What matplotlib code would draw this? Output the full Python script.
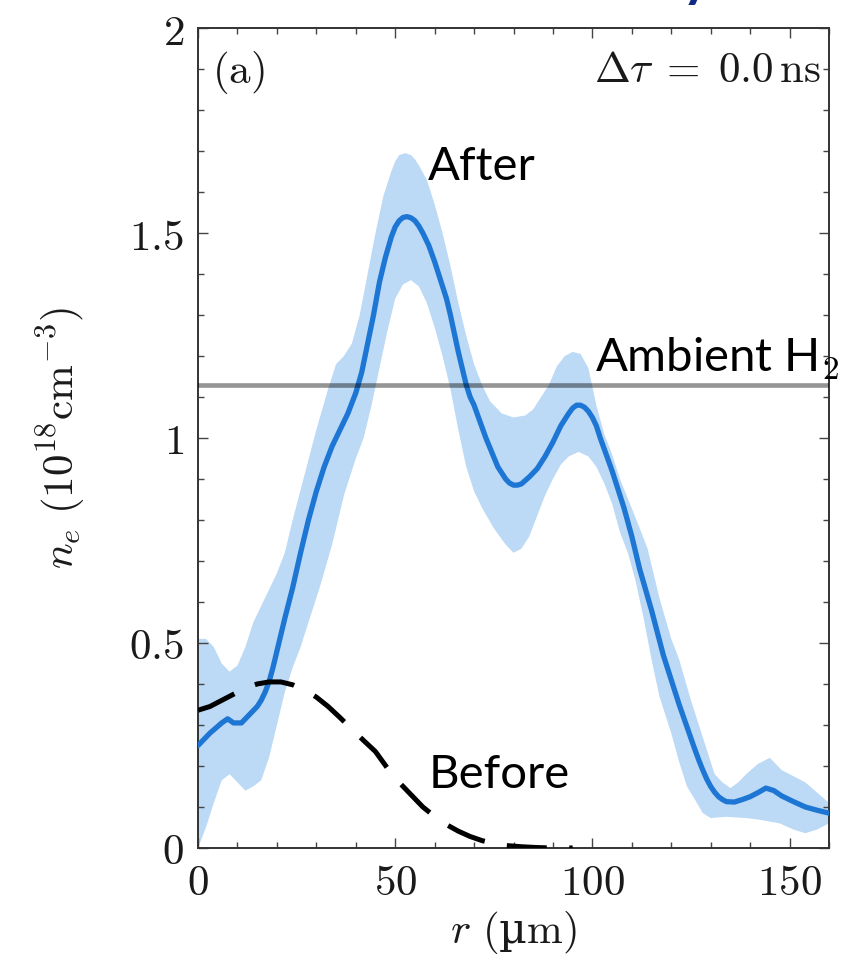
import numpy as np
import matplotlib
matplotlib.use("Agg")
import matplotlib.pyplot as plt
from matplotlib.ticker import MultipleLocator, FuncFormatter

plt.rcParams['mathtext.fontset'] = 'cm'
plt.rcParams['font.family'] = ['DejaVu Serif']

# Electron density after the pulse (mean profile)
r_after = [0, 3, 6, 7.5, 9, 11, 13, 15, 16, 17, 18, 19, 20, 21, 22, 24, 26, 28, 30, 32,
           34, 36, 38, 40, 41.5, 43, 44.5, 46, 47.5, 49, 50, 51, 52, 53, 54, 55, 56, 57,
           58.5, 60, 61, 62, 63, 64, 65, 66, 67, 68, 69, 70, 71.5, 73, 74.5, 76, 78, 79,
           80, 81, 82, 84, 86, 88, 90, 92, 94, 95, 96, 97, 98, 99, 100, 101, 102, 103.5,
           105, 106.5, 108, 110, 112, 115, 118, 120, 122, 124, 126, 127, 128, 129, 130,
           131, 132, 133, 134, 136, 138, 140, 142, 144, 146, 148, 151, 154, 157, 160]
ne_after = [0.25, 0.28, 0.305, 0.315, 0.305, 0.305, 0.325, 0.345, 0.36, 0.38, 0.405, 0.44,
            0.48, 0.52, 0.56, 0.635, 0.72, 0.80, 0.87, 0.93, 0.98, 1.02, 1.06, 1.11, 1.16,
            1.23, 1.30, 1.38, 1.44, 1.49, 1.515, 1.53, 1.538, 1.54, 1.537, 1.53, 1.517,
            1.50, 1.47, 1.43, 1.40, 1.37, 1.34, 1.30, 1.255, 1.21, 1.17, 1.13, 1.10, 1.08,
            1.04, 1.00, 0.965, 0.93, 0.90, 0.89, 0.885, 0.885, 0.888, 0.905, 0.925, 0.955,
            0.99, 1.03, 1.06, 1.073, 1.08, 1.08, 1.075, 1.065, 1.05, 1.03, 1.00, 0.96,
            0.92, 0.875, 0.83, 0.76, 0.68, 0.58, 0.47, 0.41, 0.35, 0.295, 0.24, 0.214,
            0.19, 0.168, 0.15, 0.136, 0.125, 0.118, 0.113, 0.112, 0.118, 0.125, 0.135,
            0.146, 0.14, 0.127, 0.113, 0.10, 0.092, 0.085]

# Upper edge of the uncertainty band
r_upper = [0, 2, 4, 6, 8, 10, 12, 14, 16, 18, 20, 22, 24, 27, 30, 33, 35, 37, 39, 41, 43,
           45, 47, 49, 50, 51, 52.5, 54, 55, 56, 58, 60, 62, 64, 66, 68, 70, 72, 74, 77,
           80, 83, 85, 87, 89, 91, 93, 95, 97, 99, 101, 103, 105, 107, 109.5, 112, 114,
           117, 120, 122, 125, 127, 129, 131, 133, 135, 137, 139, 142, 145, 148, 151,
           154, 157, 160]
ne_upper = [0.51, 0.51, 0.49, 0.45, 0.43, 0.445, 0.49, 0.55, 0.59, 0.63, 0.67, 0.72, 0.80,
            0.91, 1.02, 1.12, 1.18, 1.20, 1.23, 1.30, 1.40, 1.50, 1.59, 1.65, 1.675, 1.69,
            1.695, 1.69, 1.68, 1.665, 1.63, 1.57, 1.50, 1.42, 1.33, 1.25, 1.18, 1.13,
            1.09, 1.06, 1.05, 1.055, 1.07, 1.10, 1.13, 1.175, 1.20, 1.21, 1.205, 1.17,
            1.08, 1.01, 0.96, 0.90, 0.84, 0.78, 0.73, 0.61, 0.51, 0.46, 0.36, 0.30, 0.24,
            0.18, 0.16, 0.146, 0.16, 0.18, 0.205, 0.22, 0.19, 0.175, 0.16, 0.135, 0.11]

# Lower edge of the uncertainty band
r_lower = [0, 2, 4, 6, 8, 10, 12, 14, 16, 18, 20, 22, 24, 26, 28, 31, 34, 37, 40, 42, 44,
           46, 48, 50, 52, 54, 56, 58, 60, 62, 64, 66, 68, 70, 72, 75, 78, 80, 82, 84, 86,
           88, 90, 92, 94, 96.5, 99, 101, 103, 105, 107, 109, 111, 113, 115, 117, 120, 122,
           124, 126.5, 128, 130, 134, 139, 143, 147.5, 151, 154, 157, 160]
ne_lower = [0.0, 0.05, 0.11, 0.165, 0.18, 0.16, 0.14, 0.15, 0.165, 0.22, 0.30, 0.38, 0.44,
            0.49, 0.55, 0.64, 0.74, 0.86, 0.95, 1.00, 1.08, 1.17, 1.26, 1.34, 1.375, 1.385,
            1.37, 1.33, 1.27, 1.20, 1.12, 1.02, 0.93, 0.87, 0.83, 0.78, 0.74, 0.72, 0.73,
            0.76, 0.81, 0.86, 0.90, 0.935, 0.955, 0.966, 0.955, 0.93, 0.89, 0.84, 0.77,
            0.72, 0.65, 0.56, 0.46, 0.37, 0.28, 0.21, 0.15, 0.11, 0.085, 0.073, 0.076,
            0.073, 0.068, 0.06, 0.045, 0.036, 0.045, 0.06]

# Electron density before the pulse
r_before = [0, 3, 6, 9, 12, 15, 18, 21, 24, 27, 30, 33, 36, 39, 42, 45, 48, 51, 54, 57,
            60, 63, 66, 69, 72, 75, 78, 82, 86, 90, 95]
ne_before = [0.336, 0.345, 0.36, 0.375, 0.39, 0.40, 0.405, 0.405, 0.398, 0.385, 0.368,
             0.345, 0.318, 0.29, 0.262, 0.235, 0.195, 0.16, 0.13, 0.10, 0.077, 0.057,
             0.041, 0.028, 0.018, 0.011, 0.006, 0.003, 0.001, 0.0, 0.0]

ambient_h2 = 1.13

x_ticks = [0, 50, 100, 150]
y_ticks = [0, 0.5, 1, 1.5, 2]

blue = '#1d76d3'
band = '#bcd9f5'

fig = plt.figure(figsize=(8.54, 9.6), dpi=100)
ax = fig.add_axes([0.2319, 0.1167, 0.9707 - 0.2319, 0.9708 - 0.1167])

ax.fill(np.concatenate([r_upper, r_lower[::-1]]),
        np.concatenate([ne_upper, ne_lower[::-1]]),
        color=band, lw=0, zorder=1)
ax.plot(r_after, ne_after, color=blue, lw=3.8, solid_capstyle='round',
        solid_joinstyle='round', zorder=3)
ax.plot(r_before, ne_before, color='black', lw=3.6, dashes=(8, 4.5), zorder=3)
ax.axhline(ambient_h2, color='black', alpha=0.42, lw=3.3, zorder=4)

ax.set_xlim(0, 160)
ax.set_ylim(0, 2)
ax.set_xticks(x_ticks)
ax.set_yticks(y_ticks)
ax.xaxis.set_minor_locator(MultipleLocator(10))
ax.yaxis.set_minor_locator(MultipleLocator(0.1))

fmt = FuncFormatter(lambda v, p: r'$%g$' % v)
ax.xaxis.set_major_formatter(fmt)
ax.yaxis.set_major_formatter(fmt)

ax.tick_params(which='both', direction='in', top=True, right=True,
               color='#444444', width=1.0, labelsize=31, labelcolor='#1a1a1a')
ax.tick_params(which='major', length=7, pad=10)
ax.tick_params(which='minor', length=4)
for s in ax.spines.values():
    s.set_color('#333333')
    s.set_linewidth(1.4)

ax.set_ylabel(r'$n_e\ (10^{18}\mathrm{cm}^{-3})$', fontsize=31, color='#1a1a1a', labelpad=30)
ax.set_xlabel(r'$r\ ($µ$\mathrm{m})$', fontsize=31, color='#1a1a1a', labelpad=4)

ax.text(0.022, 0.975, r'$\mathrm{(a)}$', transform=ax.transAxes, fontsize=31,
        ha='left', va='top', color='#1a1a1a')
ax.text(0.987, 0.975, r'$\Delta\tau\;=\;0.0\,\mathrm{ns}$', transform=ax.transAxes,
        fontsize=31, ha='right', va='top', color='#1a1a1a')

label_font = dict(family=['Lato', 'DejaVu Sans'], fontsize=34, color='black', zorder=5)
ax.text(58.3, 1.63, 'After', ha='left', va='baseline', **label_font)
ax.text(58.6, 0.146, 'Before', ha='left', va='baseline', **label_font)
ax.text(100.7, 1.161, 'Ambient H$_2$', ha='left', va='baseline', clip_on=False,
        **label_font)

fig.text(0.816, 1.004, 'y', ha='center', va='baseline', fontsize=40,
         fontweight='bold', color='#102a86', family=['Lato', 'DejaVu Sans'])

fig.savefig('out.png', dpi=100, facecolor='white')
